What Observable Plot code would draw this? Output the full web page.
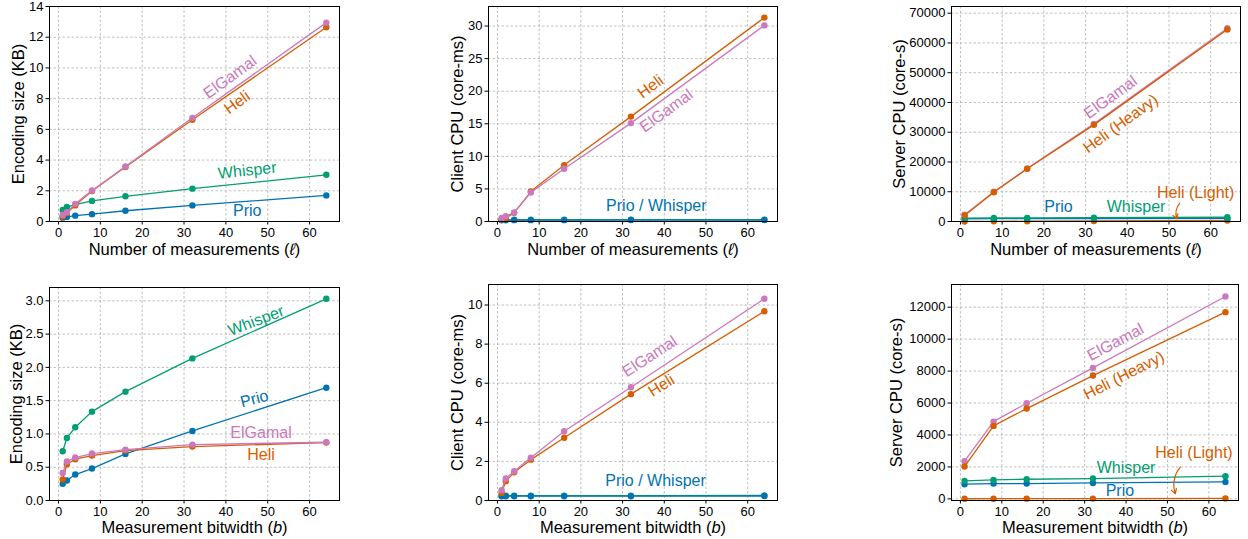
<!DOCTYPE html>
<html><head><meta charset="utf-8">
<script src="https://cdn.jsdelivr.net/npm/d3@7"></script>
<script src="https://cdn.jsdelivr.net/npm/@observablehq/plot@0.6"></script>
<style>
html,body{margin:0;padding:0;background:#fff;}
#wrap{position:relative;width:1248px;height:539px;overflow:hidden;background:#fff;}
#wrap svg{position:absolute;overflow:visible;}
</style></head><body><div id="wrap"></div>
<script>
// ---------- data ----------
const measCounts = [1, 2, 4, 8, 16, 32, 64];          // number of measurements (ℓ)
const measCountsServer = [1, 8, 16, 32, 64];
const bitwidths = [1, 2, 4, 8, 16, 32, 64];           // measurement bitwidth (b)
const bitwidthsServer = [1, 8, 16, 32, 64];

// Encoding size (KB) vs ℓ
const encL_prio    = [0.25, 0.30, 0.38, 0.48, 0.70, 1.05, 1.70];
const encL_whisper = [0.75, 0.94, 1.10, 1.34, 1.64, 2.14, 3.04];
const encL_heli    = [0.32, 0.55, 1.05, 1.98, 3.55, 6.62, 12.65];
const encL_elgamal = [0.42, 0.60, 1.15, 2.02, 3.58, 6.75, 12.95];

// Client CPU (core-ms) vs ℓ
const cliL_prio    = [0.20, 0.20, 0.21, 0.21, 0.21, 0.22, 0.22];
const cliL_whisper = [0.25, 0.26, 0.27, 0.27, 0.27, 0.28, 0.28];
const cliL_heli    = [0.30, 0.50, 1.33, 4.60, 8.66, 16.10, 31.30];
const cliL_elgamal = [0.55, 0.82, 1.39, 4.45, 8.10, 15.10, 30.10];

// Server CPU (core-s) vs ℓ
const srvL_prio      = [920, 960, 960, 1000, 1065];
const srvL_whisper   = [1130, 1190, 1230, 1275, 1420];
const srvL_heliLight = [10, 45, 90, 180, 360];
const srvL_elgamal   = [2300, 10000, 17800, 32800, 64970];
const srvL_heliHeavy = [2016, 9850, 17700, 32480, 64500];

// Encoding size (KB) vs b
const encB_prio    = [0.25, 0.30, 0.39, 0.48, 0.70, 1.045, 1.695];
const encB_whisper = [0.74, 0.94, 1.10, 1.335, 1.635, 2.135, 3.03];
const encB_heli    = [0.315, 0.545, 0.62, 0.675, 0.75, 0.81, 0.87];
const encB_elgamal = [0.415, 0.585, 0.645, 0.705, 0.765, 0.84, 0.875];

// Client CPU (core-ms) vs b
const cliB_prio    = [0.22, 0.22, 0.22, 0.22, 0.22, 0.22, 0.23];
const cliB_whisper = [0.25, 0.25, 0.25, 0.25, 0.25, 0.25, 0.26];
const cliB_heli    = [0.39, 0.99, 1.44, 2.09, 3.21, 5.44, 9.68];
const cliB_elgamal = [0.53, 1.13, 1.50, 2.19, 3.54, 5.79, 10.32];

// Server CPU (core-s) vs b
const srvB_prio      = [920, 960, 960, 1000, 1065];
const srvB_whisper   = [1130, 1190, 1230, 1275, 1420];
const srvB_heliLight = [10, 12, 15, 20, 30];
const srvB_elgamal   = [2360, 4840, 5990, 8200, 12670];
const srvB_heliHeavy = [2025, 4570, 5655, 7720, 11690];

// ticks
const xTicks = [0, 10, 20, 30, 40, 50, 60];
const encLTicks = [0, 2, 4, 6, 8, 10, 12, 14];
const cliLTicks = [0, 5, 10, 15, 20, 25, 30];
const srvLTicks = [0, 10000, 20000, 30000, 40000, 50000, 60000, 70000];
const encBTicks = [0, 0.5, 1, 1.5, 2, 2.5, 3];
const cliBTicks = [0, 2, 4, 6, 8, 10];
const srvBTicks = [0, 2000, 4000, 6000, 8000, 10000, 12000];

// ---------- styles ----------
const COL = {prio: "#0173b2", whisper: "#029e73", heli: "#d55e00", elgamal: "#cc78bc"};
const FONT = "'Liberation Sans', Arial, Helvetica, sans-serif";
const AXL = 16.5, LBL = 16, TICK = 13;
const X_L = "Number of measurements (ℓ)";
const X_B = "Measurement bitwidth (b)";

function rows(xs, ys) { return xs.map((x, i) => ({x, y: ys[i]})); }

function panel(cfg) {
  const marks = [
    Plot.gridX(xTicks, {stroke: "#b0b0b0", strokeOpacity: 1, strokeWidth: 0.8, strokeDasharray: "2.5,2"}),
    Plot.gridY(cfg.yTicks, {stroke: "#b0b0b0", strokeOpacity: 1, strokeWidth: 0.8, strokeDasharray: "2.5,2"})
  ];
  for (const s of cfg.series) {
    const d = rows(s.x, s.y);
    marks.push(Plot.line(d, {x: "x", y: "y", stroke: s.c, strokeWidth: 1.3}));
    marks.push(Plot.dot(d, {x: "x", y: "y", fill: s.c, r: 3.2}));
  }
  for (const l of cfg.labels) {
    marks.push(Plot.text([l], {x: "x", y: "y", text: d => d.t, fill: l.c, rotate: l.r, fontSize: LBL, textAnchor: "middle", lineAnchor: "middle"}));
  }
  if (cfg.arrow) {
    const a = cfg.arrow;
    marks.push(Plot.arrow([a], {x1: "x1", y1: "y1", x2: "x2", y2: "y2", bend: a.bend, stroke: COL.heli, strokeWidth: 1.2, headLength: 7}));
  }
  marks.push(Plot.frame({stroke: "black", strokeWidth: 1}));
  marks.push(Plot.axisX(xTicks, {tickSize: 3.5, tickPadding: 2.5, fontSize: TICK, label: null}));
  marks.push(Plot.axisY(cfg.yTicks, {tickSize: 3.5, tickPadding: 2.5, fontSize: TICK, label: null, tickFormat: cfg.yFmt}));
  marks.push(Plot.text([cfg.xLabel], {frameAnchor: "bottom", dy: cfg.xLabelDy, text: d => d, fontSize: AXL, textAnchor: "middle", lineAnchor: "middle"}));
  marks.push(Plot.text([cfg.yLabel], {frameAnchor: "left", dx: -cfg.yLabelDx, text: d => d, fontSize: AXL, rotate: -90, textAnchor: "middle", lineAnchor: "middle"}));

  const svg = Plot.plot({
    width: cfg.w, height: cfg.h,
    marginLeft: cfg.m[0], marginRight: cfg.m[1], marginTop: cfg.m[2], marginBottom: cfg.m[3],
    x: {domain: [-2.15, 67.15], label: null},
    y: {domain: cfg.yDomain, label: null},
    style: {fontFamily: FONT, fontSize: TICK + "px", color: "black", background: "transparent"},
    marks
  });
  svg.style.left = cfg.left + "px";
  svg.style.top = cfg.top + "px";
  svg.querySelectorAll("text").forEach(t => {
    if (t.textContent === X_L) t.innerHTML = 'Number of measurements (<tspan font-style="italic">ℓ</tspan>)';
    if (t.textContent === X_B) t.innerHTML = 'Measurement bitwidth (<tspan font-style="italic">b</tspan>)';
  });
  document.getElementById("wrap").appendChild(svg);
}

const fmtInt = d3.format("d");
const fmt1 = d3.format(".1f");

// Top-left: encoding size vs ℓ
panel({
  left: 0, top: 0, w: 416, h: 270, m: [49, 77, 6, 49],
  yDomain: [0, 14], yTicks: encLTicks, yFmt: fmtInt,
  xLabel: X_L, xLabelDy: 28, yLabel: "Encoding size (KB)", yLabelDx: 31,
  series: [
    {x: measCounts, y: encL_prio, c: COL.prio},
    {x: measCounts, y: encL_whisper, c: COL.whisper},
    {x: measCounts, y: encL_heli, c: COL.heli},
    {x: measCounts, y: encL_elgamal, c: COL.elgamal}
  ],
  labels: [
    {t: "ElGamal", x: 41.0, y: 9.4, c: COL.elgamal, r: -36},
    {t: "Heli", x: 42.7, y: 7.75, c: COL.heli, r: -36},
    {t: "Whisper", x: 45.1, y: 3.32, c: COL.whisper, r: -6},
    {t: "Prio", x: 45.1, y: 0.72, c: COL.prio, r: 0}
  ]
});

// Top-middle: client CPU vs ℓ
panel({
  left: 416, top: 0, w: 416, h: 270, m: [72, 55, 6, 49],
  yDomain: [0, 33], yTicks: cliLTicks, yFmt: fmtInt,
  xLabel: X_L, xLabelDy: 28, yLabel: "Client CPU (core-ms)", yLabelDx: 31,
  series: [
    {x: measCounts, y: cliL_whisper, c: COL.whisper},
    {x: measCounts, y: cliL_prio, c: COL.prio},
    {x: measCounts, y: cliL_heli, c: COL.heli},
    {x: measCounts, y: cliL_elgamal, c: COL.elgamal}
  ],
  labels: [
    {t: "Heli", x: 36.7, y: 20.7, c: COL.heli, r: -36},
    {t: "ElGamal", x: 40.5, y: 17.0, c: COL.elgamal, r: -36},
    {t: "Prio / Whisper", x: 38.1, y: 2.45, c: COL.prio, r: 0}
  ]
});

// Top-right: server CPU vs ℓ
panel({
  left: 832, top: 0, w: 416, h: 270, m: [119, 8, 6, 49],
  yDomain: [0, 72250], yTicks: srvLTicks, yFmt: fmtInt,
  xLabel: X_L, xLabelDy: 28, yLabel: "Server CPU (core-s)", yLabelDx: 52,
  series: [
    {x: measCountsServer, y: srvL_heliLight, c: COL.heli},
    {x: measCountsServer, y: srvL_prio, c: COL.prio},
    {x: measCountsServer, y: srvL_whisper, c: COL.whisper},
    {x: measCountsServer, y: srvL_elgamal, c: COL.elgamal},
    {x: measCountsServer, y: srvL_heliHeavy, c: COL.heli}
  ],
  labels: [
    {t: "ElGamal", x: 36.0, y: 41770, c: COL.elgamal, r: -36},
    {t: "Heli (Heavy)", x: 38.4, y: 32830, c: COL.heli, r: -36},
    {t: "Prio", x: 23.5, y: 4800, c: COL.prio, r: 0},
    {t: "Whisper", x: 42.1, y: 4800, c: COL.whisper, r: 0},
    {t: "Heli (Light)", x: 56.4, y: 9510, c: COL.heli, r: 0}
  ],
  arrow: {x1: 52.6, y1: 6150, x2: 51.9, y2: 900, bend: -30}
});

// Bottom-left: encoding size vs b
panel({
  left: 0, top: 270, w: 416, h: 269, m: [49, 77, 17, 39],
  yDomain: [0, 3.2], yTicks: encBTicks, yFmt: fmt1,
  xLabel: X_B, xLabelDy: 27, yLabel: "Encoding size (KB)", yLabelDx: 33,
  series: [
    {x: bitwidths, y: encB_prio, c: COL.prio},
    {x: bitwidths, y: encB_whisper, c: COL.whisper},
    {x: bitwidths, y: encB_heli, c: COL.heli},
    {x: bitwidths, y: encB_elgamal, c: COL.elgamal}
  ],
  labels: [
    {t: "Whisper", x: 47.2, y: 2.70, c: COL.whisper, r: -21},
    {t: "Prio", x: 46.8, y: 1.525, c: COL.prio, r: -15},
    {t: "ElGamal", x: 48.4, y: 1.015, c: COL.elgamal, r: 0},
    {t: "Heli", x: 48.4, y: 0.685, c: COL.heli, r: 0}
  ]
});

// Bottom-middle: client CPU vs b
panel({
  left: 416, top: 270, w: 416, h: 269, m: [72, 55, 14, 39],
  yDomain: [0, 11.05], yTicks: cliBTicks, yFmt: fmtInt,
  xLabel: X_B, xLabelDy: 27, yLabel: "Client CPU (core-ms)", yLabelDx: 31,
  series: [
    {x: bitwidths, y: cliB_whisper, c: COL.whisper},
    {x: bitwidths, y: cliB_prio, c: COL.prio},
    {x: bitwidths, y: cliB_heli, c: COL.heli},
    {x: bitwidths, y: cliB_elgamal, c: COL.elgamal}
  ],
  labels: [
    {t: "ElGamal", x: 36.5, y: 7.37, c: COL.elgamal, r: -33},
    {t: "Heli", x: 39.3, y: 5.88, c: COL.heli, r: -32},
    {t: "Prio / Whisper", x: 37.9, y: 0.99, c: COL.prio, r: 0}
  ]
});

// Bottom-right: server CPU vs b
panel({
  left: 832, top: 270, w: 416, h: 269, m: [119, 10, 14, 39],
  yDomain: [-100, 13420], yTicks: srvBTicks, yFmt: fmtInt,
  xLabel: X_B, xLabelDy: 27, yLabel: "Server CPU (core-s)", yLabelDx: 55,
  series: [
    {x: bitwidthsServer, y: srvB_heliLight, c: COL.heli},
    {x: bitwidthsServer, y: srvB_prio, c: COL.prio},
    {x: bitwidthsServer, y: srvB_whisper, c: COL.whisper},
    {x: bitwidthsServer, y: srvB_elgamal, c: COL.elgamal},
    {x: bitwidthsServer, y: srvB_heliHeavy, c: COL.heli}
  ],
  labels: [
    {t: "ElGamal", x: 37.45, y: 9808, c: COL.elgamal, r: -28},
    {t: "Heli (Heavy)", x: 39.5, y: 7724, c: COL.heli, r: -27},
    {t: "Whisper", x: 40.0, y: 1922, c: COL.whisper, r: 0},
    {t: "Prio", x: 38.5, y: 526, c: COL.prio, r: 0},
    {t: "Heli (Light)", x: 56.4, y: 2860, c: COL.heli, r: 0}
  ],
  arrow: {x1: 53.1, y1: 1984, x2: 51.9, y2: 319, bend: -30}
});
</script></body></html>
